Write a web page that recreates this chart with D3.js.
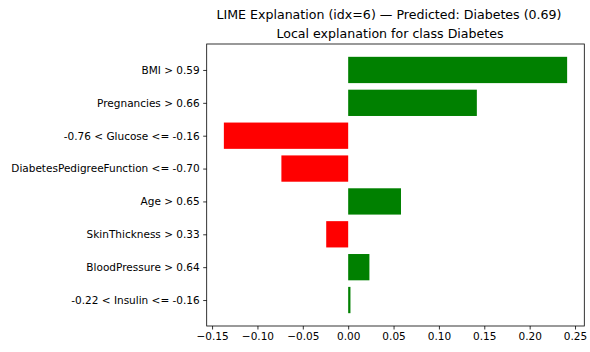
<!DOCTYPE html>
<html>
<head>
<meta charset="utf-8">
<script src="https://cdn.jsdelivr.net/npm/d3@7"></script>
<style>
  html, body { margin: 0; padding: 0; background: #fff; }
  svg { display: block; font-family: "DejaVu Sans", sans-serif; }
</style>
</head>
<body>
<svg id="chart" width="590" height="352"></svg>
<script>
// Feature conditions (top to bottom) and their LIME weights
const features = [
  "BMI > 0.59",
  "Pregnancies > 0.66",
  "-0.76 < Glucose <= -0.16",
  "DiabetesPedigreeFunction <= -0.70",
  "Age > 0.65",
  "SkinThickness > 0.33",
  "BloodPressure > 0.64",
  "-0.22 < Insulin <= -0.16"
];
const weights = [0.2413, 0.1418, -0.1370, -0.0736, 0.0582, -0.0242, 0.0234, 0.0025];
const xTicks = [-0.15, -0.10, -0.05, 0.00, 0.05, 0.10, 0.15, 0.20, 0.25];

const suptitle = "LIME Explanation (idx=6) \u2014 Predicted: Diabetes (0.69)";
const axTitle = "Local explanation for class Diabetes";

const svg = d3.select("#chart");
const plot = { left: 206.7, right: 584.3, top: 44, bottom: 326 };
const tickFont = 10.5, titleFont = 12.6;

// x domain padded by 5% of the data range on each side
const lo = d3.min(weights), hi = d3.max(weights);
const pad = (hi - lo) * 0.05;
const x = d3.scaleLinear().domain([lo - pad, hi + pad]).range([plot.left, plot.right]);

// bars sit at integer positions, first feature at the top
const n = features.length;
const yPos = d3.scaleLinear().domain([n - 1 + 0.4 + 0.39, -0.4 - 0.39]).range([plot.top, plot.bottom]);
const barH = yPos(0) - yPos(0.8);

svg.append("g")
  .selectAll("rect")
  .data(weights)
  .join("rect")
  .attr("x", d => Math.min(x(0), x(d)))
  .attr("width", d => Math.abs(x(d) - x(0)))
  .attr("y", (d, i) => yPos(n - 1 - i + 0.4))
  .attr("height", barH)
  .attr("fill", d => d >= 0 ? "#008000" : "#ff0000");

// frame
svg.append("rect")
  .attr("x", plot.left).attr("y", plot.top)
  .attr("width", plot.right - plot.left).attr("height", plot.bottom - plot.top)
  .attr("fill", "none").attr("stroke", "#000").attr("stroke-width", 0.8);

// x axis
const fmt = d3.format(".2f");
const xAxis = d3.axisBottom(x).tickValues(xTicks).tickFormat(fmt).tickSize(3.5).tickPadding(3.5);
const gx = svg.append("g").attr("transform", `translate(0,${plot.bottom})`).call(xAxis);
gx.select(".domain").remove();
gx.selectAll(".tick line").attr("stroke", "#000").attr("stroke-width", 0.8);
gx.selectAll(".tick text").attr("fill", "#000").attr("font-size", tickFont).attr("font-family", "DejaVu Sans");

// y axis with feature labels
const yBand = d3.scaleOrdinal().domain(features).range(features.map((f, i) => yPos(n - 1 - i)));
const yAxis = d3.axisLeft(yBand).tickSize(3.5).tickPadding(3.5);
const gy = svg.append("g").attr("transform", `translate(${plot.left},0)`).call(yAxis);
gy.select(".domain").remove();
gy.selectAll(".tick line").attr("stroke", "#000").attr("stroke-width", 0.8);
gy.selectAll(".tick text").attr("fill", "#000").attr("font-size", tickFont).attr("font-family", "DejaVu Sans");

// titles
svg.append("text")
  .attr("x", 389).attr("y", 18.5)
  .attr("text-anchor", "middle").attr("font-size", titleFont).attr("fill", "#000")
  .text(suptitle);
svg.append("text")
  .attr("x", 390).attr("y", 37.8)
  .attr("text-anchor", "middle").attr("font-size", titleFont).attr("fill", "#000")
  .text(axTitle);
</script>
</body>
</html>
